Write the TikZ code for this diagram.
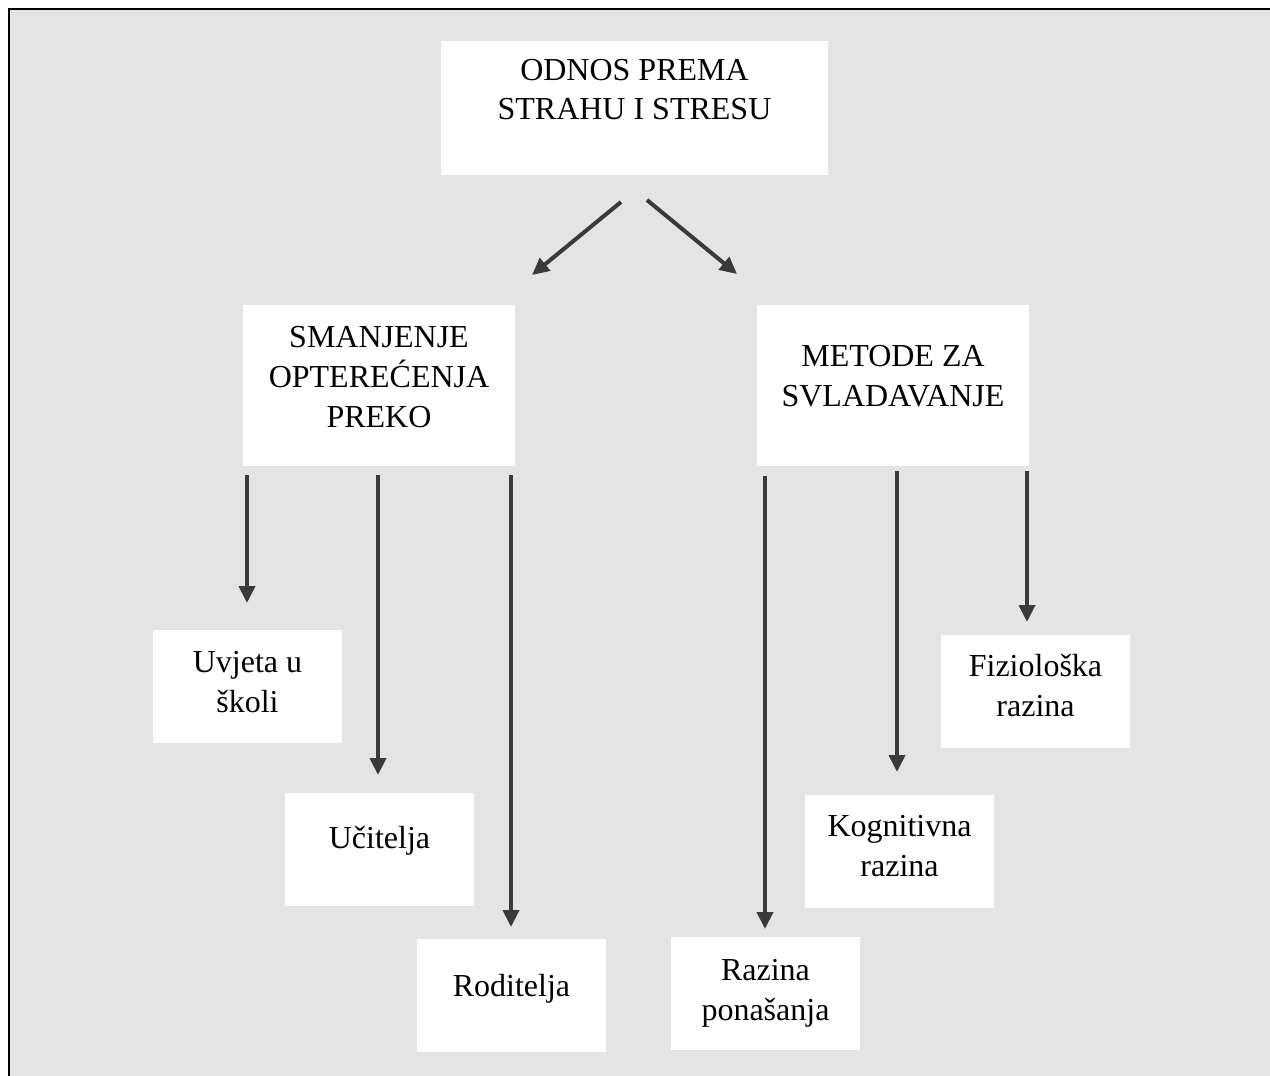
\documentclass[tikz,border=0pt]{standalone}
\usepackage{fontspec}
\setmainfont{Liberation Serif}
\usetikzlibrary{arrows.meta}
\definecolor{bggray}{HTML}{E4E4E4}
\definecolor{arrowgray}{HTML}{3A3A3A}
\begin{document}
\begin{tikzpicture}[x=1pt,y=-1pt,
  box/.style={fill=white, draw=none, inner sep=0pt, anchor=north west},
  smallbox/.style={box, minimum width=189pt, minimum height=113pt},
  bigbox/.style={box, minimum width=272pt, minimum height=161pt},
  lbl/.style={font=\fontsize{32}{40}\selectfont, align=center, anchor=base, inner sep=0pt, text=black},
  arr/.style={draw=arrowgray, line width=4pt, -{Triangle[width=16pt,length=17pt]}}]
% page and background
\fill[white] (0,0) rectangle (1270,1076);
\useasboundingbox (0,0) rectangle (1270,1076);
\fill[bggray] (9,9) rectangle (1270,1076);
\draw[line width=2.6pt, line join=miter] (9,1076) -- (9,9) -- (1270,9);

% boxes
\node[box, minimum width=387pt, minimum height=134pt] (top) at (441,41) {};
\node[bigbox] (sman) at (243,305) {};
\node[bigbox] (meto) at (757,305) {};
\node[smallbox] (uvj) at (153,630) {};
\node[smallbox] (uci) at (285,793) {};
\node[smallbox] (rod) at (417,939) {};
\node[smallbox] (pon) at (671,937) {};
\node[smallbox] (kog) at (805,795) {};
\node[smallbox] (fiz) at (941,635) {};

% labels (anchor = baseline of the last line)
\node[lbl, font=\fontsize{32}{38.5}\selectfont] (ttop) at (634.5,119) {ODNOS PREMA\\STRAHU I STRESU};
\node[lbl] (tsman) at (379,427) {SMANJENJE\\OPTEREĆENJA\\PREKO};
\node[lbl] (tmeto) at (893,406) {METODE ZA\\SVLADAVANJE};
\node[lbl] (tuvj) at (247.5,712) {Uvjeta u\\školi};
\node[lbl] (tuci) at (379.5,848) {Učitelja};
\node[lbl] (trod) at (511.5,996) {Roditelja};
\node[lbl] (tpon) at (765.5,1020) {Razina\\ponašanja};
\node[lbl] (tkog) at (899.5,876) {Kognitivna\\razina};
\node[lbl] (tfiz) at (1035.5,716) {Fiziološka\\razina};

% arrow endpoints
\coordinate (a1s) at (621,202);  \coordinate (a1e) at (532,275);
\coordinate (a2s) at (647,200);  \coordinate (a2e) at (737,274);
\coordinate (b1s) at (247,475);  \coordinate (b1e) at (247,603);
\coordinate (b2s) at (378,475);  \coordinate (b2e) at (378,775);
\coordinate (b3s) at (511,475);  \coordinate (b3e) at (511,927);
\coordinate (c1s) at (765,476);  \coordinate (c1e) at (765,929);
\coordinate (c2s) at (897,471);  \coordinate (c2e) at (897,772);
\coordinate (c3s) at (1027,471); \coordinate (c3e) at (1027,622);

% arrows
\draw[arr] (a1s) -- (a1e);
\draw[arr] (a2s) -- (a2e);
\draw[arr] (b1s) -- (b1e);
\draw[arr] (b2s) -- (b2e);
\draw[arr] (b3s) -- (b3e);
\draw[arr] (c1s) -- (c1e);
\draw[arr] (c2s) -- (c2e);
\draw[arr] (c3s) -- (c3e);
\end{tikzpicture}
\end{document}
